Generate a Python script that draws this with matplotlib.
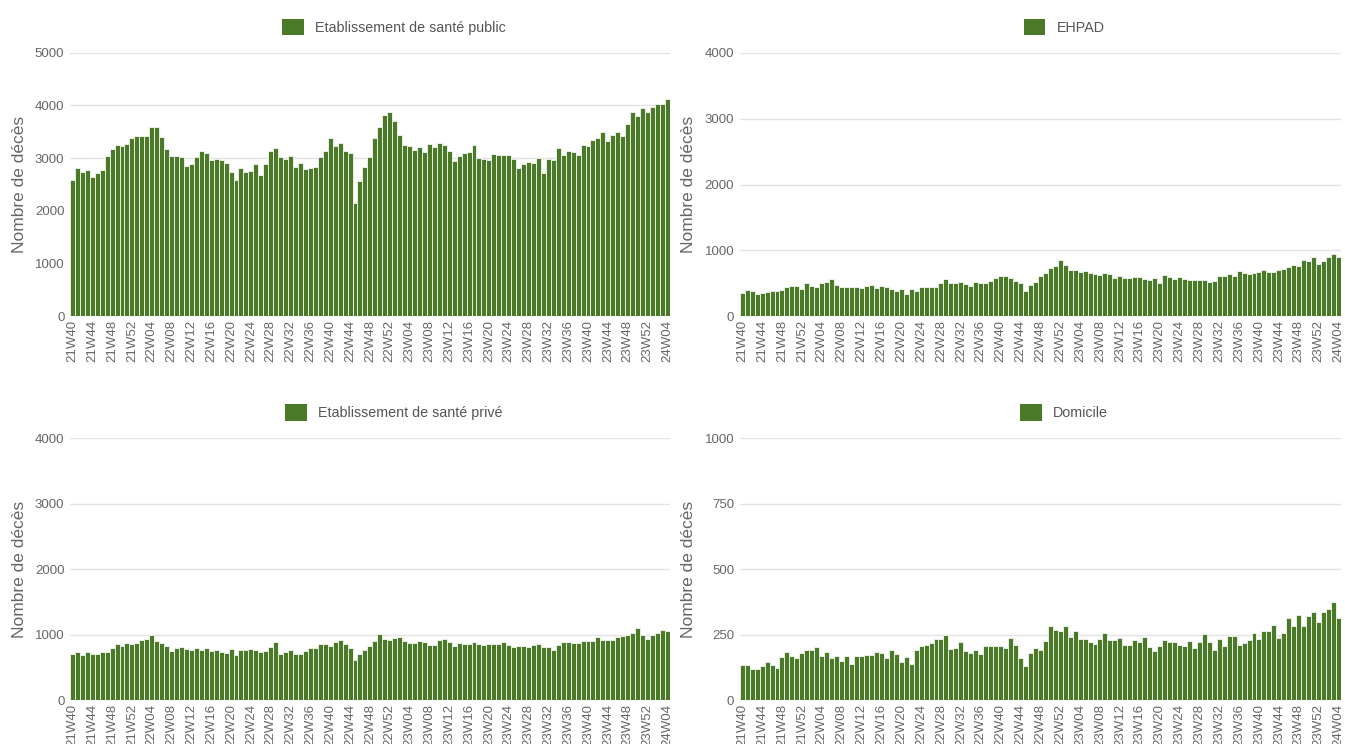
import matplotlib

matplotlib.use("Agg")
import matplotlib.pyplot as plt
from matplotlib.patches import Patch

plt.rcParams["font.family"] = ["Liberation Sans", "DejaVu Sans"]

BAR_COLOR = "#4a7a28"
GRID_COLOR = "#e3e3e3"
TEXT_COLOR = "#666666"

# ISO weeks 2021W40 .. 2024W04
weeks = (
    [f"21W{w:02d}" for w in range(40, 53)]
    + [f"22W{w:02d}" for w in range(1, 53)]
    + [f"23W{w:02d}" for w in range(1, 53)]
    + [f"24W{w:02d}" for w in range(1, 5)]
)

public = [
    2580, 2820, 2745, 2780, 2640, 2710, 2770, 3050, 3165, 3250, 3235, 3260, 3375,
    3430, 3430, 3430, 3600, 3600, 3410, 3170, 3040, 3040, 3025, 2850, 2890, 3030,
    3140, 3095, 2970, 2980, 2970, 2900, 2740, 2580, 2820, 2745, 2760, 2880, 2680,
    2880, 3130, 3200, 3020, 2990, 3045, 2835, 2900, 2795, 2820, 2840, 3020, 3145,
    3375, 3235, 3285, 3135, 3090, 2150, 2560, 2840, 3020, 3380, 3585, 3815, 3885,
    3700, 3440, 3250, 3225, 3160, 3215, 3115, 3260, 3215, 3280, 3250, 3130, 2950,
    3050, 3100, 3115, 3255, 3005, 2990, 2970, 3070, 3060, 3060, 3060, 2980, 2815,
    2885, 2930, 2915, 3005, 2725, 2975, 2970, 3190, 3060, 3140, 3110, 3060, 3250,
    3235, 3340, 3375, 3500, 3330, 3445, 3500, 3430, 3655, 3870, 3795, 3960, 3880,
    3975, 4030, 4030, 4115,
]

ehpad = [
    345, 395, 380, 335, 345, 365, 385, 385, 400, 445, 465, 460, 415,
    500, 460, 450, 500, 525, 560, 480, 445, 445, 450, 440, 435, 465,
    480, 430, 465, 450, 415, 385, 420, 330, 415, 385, 445, 440, 440,
    440, 500, 560, 500, 505, 520, 490, 455, 515, 510, 510, 540, 575,
    615, 610, 585, 540, 505, 390, 480, 520, 610, 650, 730, 770, 850,
    785, 700, 700, 670, 680, 655, 635, 625, 650, 640, 580, 610, 575,
    575, 590, 590, 565, 555, 580, 500, 625, 595, 570, 590, 570, 545,
    550, 555, 555, 525, 535, 605, 605, 640, 610, 685, 650, 645, 650,
    670, 705, 675, 675, 700, 720, 750, 785, 760, 860, 845, 895, 800,
    840, 905, 940, 900,
]

prive = [
    705, 730, 695, 740, 710, 710, 740, 730, 790, 850, 830, 865, 855,
    875, 925, 935, 990, 905, 875, 820, 750, 800, 815, 780, 770, 800,
    770, 790, 750, 760, 735, 720, 775, 695, 760, 760, 780, 770, 735,
    745, 815, 895, 710, 730, 760, 705, 705, 745, 790, 790, 860, 850,
    830, 895, 915, 860, 795, 615, 705, 765, 830, 910, 1015, 930, 915,
    950, 960, 905, 870, 870, 900, 895, 840, 845, 920, 935, 890, 830,
    875, 855, 855, 885, 855, 845, 855, 855, 855, 895, 840, 810, 825,
    825, 815, 840, 850, 815, 810, 770, 840, 885, 885, 870, 870, 910,
    900, 900, 960, 915, 925, 925, 970, 985, 1000, 1025, 1095, 990, 940,
    990, 1030, 1070, 1055,
]

domicile = [
    135, 133, 119, 117, 129, 146, 133, 122, 165, 185, 169, 159, 180,
    190, 192, 203, 169, 185, 160, 168, 150, 168, 137, 168, 168, 171,
    173, 185, 181, 161, 190, 176, 145, 166, 136, 190, 208, 212, 218,
    235, 235, 249, 195, 198, 223, 188, 180, 190, 176, 206, 206, 206,
    206, 200, 239, 211, 162, 129, 178, 199, 192, 226, 282, 268, 263,
    282, 241, 265, 235, 235, 222, 216, 235, 255, 231, 231, 239, 212,
    209, 230, 220, 240, 203, 188, 206, 228, 223, 223, 211, 206, 226,
    198, 223, 253, 222, 190, 232, 206, 244, 244, 212, 217, 228, 256,
    232, 263, 263, 286, 237, 256, 312, 282, 325, 283, 321, 336, 300,
    336, 346, 373, 315,
]

panels = [
    ("Etablissement de santé public", public, 5000, 1000),
    ("EHPAD", ehpad, 4000, 1000),
    ("Etablissement de santé privé", prive, 4000, 1000),
    ("Domicile", domicile, 1000, 250),
]

# axes rectangles in figure fraction (left, bottom, width, height)
positions = [
    [0.052, 0.575, 0.446, 0.354],
    [0.550, 0.575, 0.447, 0.354],
    [0.052, 0.059, 0.446, 0.352],
    [0.550, 0.059, 0.447, 0.352],
]

fig = plt.figure(figsize=(13.45, 7.44), dpi=100, facecolor="white")

x = list(range(len(weeks)))
tick_idx = x[::4]

for (title, values, ymax, ystep), pos in zip(panels, positions):
    ax = fig.add_axes(pos)
    ax.bar(x, values, width=1.0, color=BAR_COLOR, edgecolor="#f4f7f2",
           linewidth=0.6, zorder=2)
    ax.set_xlim(-0.5, len(weeks) - 0.5)
    ax.set_ylim(0, ymax)
    ax.set_yticks(range(0, ymax + 1, ystep))
    ax.set_xticks(tick_idx)
    ax.set_xticklabels([weeks[i] for i in tick_idx], rotation=90)
    ax.grid(axis="y", color=GRID_COLOR, linewidth=1, zorder=0)
    ax.grid(axis="x", visible=False)
    for side in ax.spines.values():
        side.set_visible(False)
    ax.tick_params(axis="both", length=0, colors=TEXT_COLOR, labelsize=9.5)
    ax.tick_params(axis="y", pad=4)
    ax.tick_params(axis="x", pad=3)
    ax.set_ylabel("Nombre de décès", color=TEXT_COLOR, fontsize=12.5)
    ax.yaxis.set_label_coords(-0.072, 0.5)
    ax.legend(
        handles=[Patch(facecolor=BAR_COLOR, edgecolor="none")],
        labels=[title],
        loc="lower center",
        bbox_to_anchor=(0.54, 1.045),
        frameon=False,
        fontsize=10.3,
        labelcolor="#555555",
        handlelength=1.5,
        handleheight=1.4,
        handletextpad=0.8,
        borderaxespad=0,
    )

fig.savefig("out.png", dpi=100, facecolor="white")
